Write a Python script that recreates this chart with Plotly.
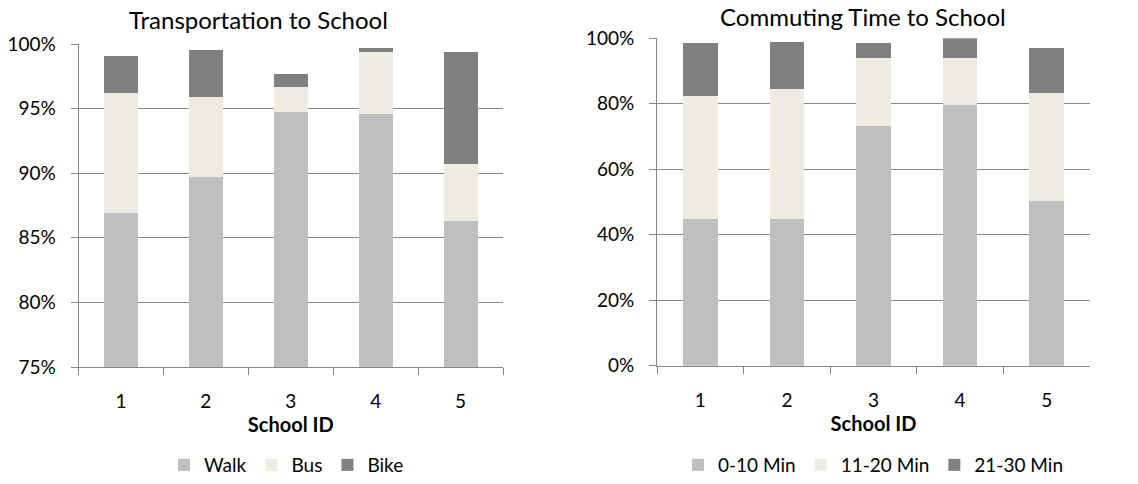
import plotly.graph_objects as go

# School IDs shared by both charts
schools = ["1", "2", "3", "4", "5"]

# Transportation to school (share of students, %)
walk = [86.9, 89.7, 94.7, 94.6, 86.3]
bus = [9.3, 6.2, 2.0, 4.8, 4.4]
bike = [2.9, 3.6, 1.0, 0.3, 8.7]

# Commuting time to school (share of students, %)
t_0_10 = [44.8, 44.9, 73.2, 79.5, 50.2]
t_11_20 = [37.7, 39.5, 20.8, 14.5, 33.1]
t_21_30 = [16.1, 14.4, 4.5, 6.0, 13.8]

transport_series = [("Walk", walk), ("Bus", bus), ("Bike", bike)]
time_series = [("0-10 Min", t_0_10), ("11-20 Min", t_11_20), ("21-30 Min", t_21_30)]
colors = ["#BFBFBF", "#EEECE1", "#808080"]

FONT = "Lato"
GRID = "#868686"

fig = go.Figure()

for (name, vals), col in zip(transport_series, colors):
    fig.add_trace(go.Bar(
        x=schools, y=[v / 100 for v in vals], name=name,
        marker=dict(color=col, line=dict(width=0)),
        xaxis="x", yaxis="y", legend="legend",
    ))

for (name, vals), col in zip(time_series, colors):
    fig.add_trace(go.Bar(
        x=schools, y=[v / 100 for v in vals], name=name,
        marker=dict(color=col, line=dict(width=0)),
        xaxis="x2", yaxis="y2", legend="legend2",
    ))

W, H = 1138, 484


def px_x(v):
    return v / W


def px_y(v):
    return 1 - v / H


xcommon = dict(
    type="category", showgrid=False, showline=True, linecolor=GRID, linewidth=1,
    ticks="outside", tickson="boundaries", ticklen=7, tickcolor=GRID,
    ticklabelstandoff=17, automargin=False,
    tickfont=dict(family=FONT, size=19, color="#000"),
    title_font=dict(family=FONT, size=20, color="#000"),
)
ycommon = dict(
    showgrid=True, gridcolor=GRID, gridwidth=1, showline=True, linecolor=GRID,
    linewidth=1, ticks="outside", ticklen=7, tickcolor=GRID, zeroline=False,
    ticklabelstandoff=11, automargin=False,
    tickformat=".0%", tickfont=dict(family=FONT, size=19, color="#000"),
)

legend_common = dict(
    orientation="h", y=0, yanchor="bottom", traceorder="normal",
    xanchor="left", font=dict(family=FONT, size=19, color="#000"),
    itemwidth=30, itemclick=False, itemdoubleclick=False,
)

fig.update_layout(
    width=W, height=H,
    margin=dict(l=0, r=0, t=0, b=0),
    paper_bgcolor="white", plot_bgcolor="white",
    barmode="stack", bargap=0.6,
    font=dict(family=FONT, color="#000"),
    xaxis=dict(xcommon, domain=[px_x(78.5), px_x(503)], anchor="y",
               title=dict(text="<b>School ID</b>", standoff=6)),
    yaxis=dict(ycommon, domain=[px_y(367), px_y(44)], anchor="x",
               range=[0.75, 1.0], dtick=0.05),
    xaxis2=dict(xcommon, domain=[px_x(657), px_x(1090)], anchor="y2",
                title=dict(text="<b>School ID</b>", standoff=6)),
    yaxis2=dict(ycommon, domain=[px_y(365.7), px_y(38.3)], anchor="x2",
                range=[0, 1.0], dtick=0.2),
    legend=dict(legend_common, x=px_x(164)),
    legend2=dict(legend_common, x=px_x(678)),
    annotations=[
        dict(text="Transportation to School", x=px_x(258), y=px_y(20),
             xref="paper", yref="paper", showarrow=False,
             xanchor="center", yanchor="middle",
             font=dict(family=FONT, size=24, color="#000")),
        dict(text="Commuting Time to School", x=px_x(863), y=px_y(16),
             xref="paper", yref="paper", showarrow=False,
             xanchor="center", yanchor="middle",
             font=dict(family=FONT, size=24, color="#000")),
    ],
)

fig.write_html("out.html")
